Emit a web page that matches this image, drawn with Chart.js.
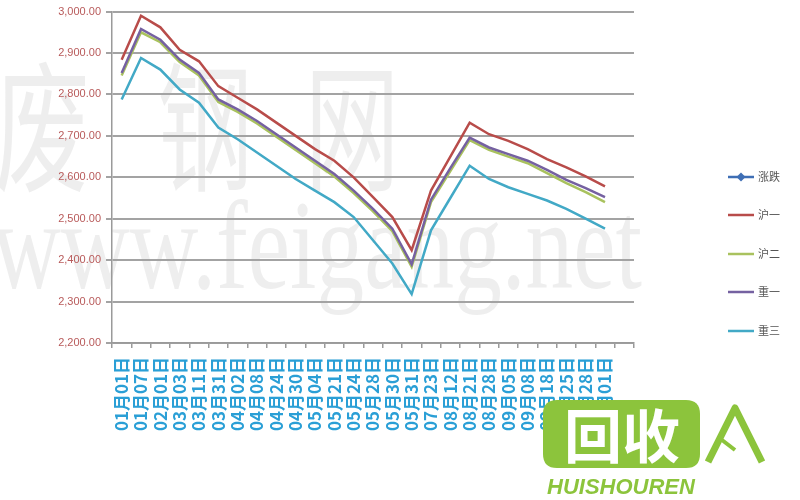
<!DOCTYPE html>
<html>
<head>
<meta charset="utf-8">
<script src="https://cdn.jsdelivr.net/npm/chart.js@4.4.1/dist/chart.umd.min.js"></script>
<style>
html,body{margin:0;padding:0;background:#fff;}
#wrap{width:800px;height:500px;position:relative;}
</style>
</head>
<body>
<div id="wrap"><canvas id="c" width="800" height="500"></canvas></div>
<script>
// ---- data ----
const categories = ['01月01日','01月07日','02月01日','03月03日','03月11日','03月31日','04月02日','04月08日','04月24日','04月30日','05月04日','05月21日','05月24日','05月28日','05月30日','05月31日','07月23日','08月12日','08月21日','08月28日','09月05日','09月08日','09月18日','09月25日','09月28日','10月01日',''];
const seriesNames = ['涨跌','沪一','沪二','重一','重三'];
const zhangdie = [];
const hu1   = [2884,2990,2962,2908,2880,2820,2792,2764,2732,2700,2668,2640,2600,2552,2504,2424,2568,2650,2732,2704,2688,2668,2644,2624,2602,2578];
const hu2   = [2846,2950,2926,2878,2846,2782,2758,2730,2698,2666,2634,2602,2562,2518,2470,2384,2540,2615,2690,2666,2650,2634,2610,2586,2564,2540];
const zhong1= [2852,2958,2932,2884,2852,2788,2764,2736,2704,2672,2640,2608,2568,2524,2476,2390,2546,2622,2696,2672,2656,2640,2618,2594,2574,2552];
const zhong3= [2788,2888,2860,2812,2780,2720,2692,2660,2628,2596,2568,2540,2504,2448,2392,2318,2472,2550,2628,2596,2576,2560,2544,2524,2500,2476];
const yMin = 2200, yMax = 3000, yStep = 100;

const colors = ['#3f6fb5','#b84c4a','#a9c25e','#7561a1','#42a9c6'];
const allSeries = [zhangdie, hu1, hu2, zhong1, zhong3];

const fmt = v => Number(v).toLocaleString('en-US',{minimumFractionDigits:2,maximumFractionDigits:2});

const watermark = {
  id:'watermark',
  beforeDraw(chart){
    const ctx = chart.ctx;
    ctx.save();
    ctx.fillStyle = '#fff';
    ctx.fillRect(0,0,chart.width,chart.height);
    ctx.fillStyle = 'rgba(140,140,140,0.15)';
    ctx.textBaseline = 'alphabetic';
    ctx.font = '140px "Noto Sans CJK SC"';
    const chars = [['废',42],['钢',205],['网',352]];
    chars.forEach(([ch,cx])=>{
      ctx.save();
      ctx.translate(cx,180);
      ctx.scale(0.68,1);
      ctx.textAlign='center';
      ctx.fillText(ch,0,0);
      ctx.restore();
    });
    ctx.font = '128px "Liberation Serif"';
    const t = 'www.feigang.net';
    const w = ctx.measureText(t).width;
    ctx.save();
    ctx.translate(-8,288);
    ctx.scale(650/w,1);
    ctx.textAlign='left';
    ctx.fillText(t,0,0);
    ctx.restore();
    ctx.restore();
  },
  afterDraw(chart){
    const ctx = chart.ctx;
    // legend (Excel-style, right side)
    ctx.save();
    const ys = [177,215,254,292,331];
    chart.data.datasets.forEach((ds,i)=>{
      const y = ys[i];
      ctx.strokeStyle = ds.borderColor;
      ctx.lineWidth = 2.5;
      ctx.beginPath(); ctx.moveTo(728,y); ctx.lineTo(754,y); ctx.stroke();
      if(i===0){
        ctx.fillStyle = ds.borderColor;
        ctx.beginPath(); ctx.moveTo(741,y-4.5); ctx.lineTo(745.5,y); ctx.lineTo(741,y+4.5); ctx.lineTo(736.5,y); ctx.closePath(); ctx.fill();
      }
      ctx.fillStyle = '#555';
      ctx.font = '11px "Noto Sans CJK SC"';
      ctx.textBaseline = 'middle';
      ctx.textAlign = 'left';
      ctx.fillText(ds.label,758,y);
    });
    // logo
    ctx.fillStyle = '#8cc43c';
    const r = 14, x0=543, y0=400, x1=700, y1=468;
    ctx.beginPath();
    ctx.moveTo(x0+r,y0); ctx.lineTo(x1-r,y0); ctx.quadraticCurveTo(x1,y0,x1,y0+r);
    ctx.lineTo(x1,y1-r); ctx.quadraticCurveTo(x1,y1,x1-r,y1); ctx.lineTo(x0+r,y1);
    ctx.quadraticCurveTo(x0,y1,x0,y1-r); ctx.lineTo(x0,y0+r); ctx.quadraticCurveTo(x0,y0,x0+r,y0);
    ctx.fill();
    ctx.fillStyle = '#fff';
    ctx.font = 'bold 58px "Noto Sans CJK SC"';
    ctx.textAlign = 'center'; ctx.textBaseline='middle';
    ctx.fillText('回收',622,436);
    ctx.strokeStyle = '#8cc43c'; ctx.lineWidth = 7; ctx.lineJoin='round';
    ctx.beginPath(); ctx.moveTo(708,462); ctx.lineTo(735,408); ctx.lineTo(762,462); ctx.stroke();
    ctx.lineWidth = 4;
    ctx.beginPath(); ctx.moveTo(722,440); ctx.lineTo(735,450); ctx.stroke();
    ctx.fillStyle = '#8cc43c';
    ctx.font = 'italic bold 22px "Liberation Sans"';
    ctx.textAlign='left'; ctx.textBaseline='alphabetic';
    ctx.fillText('HUISHOUREN',547,494);
    ctx.restore();
  }
};

const datasets = seriesNames.map((n,i)=>({
  label:n, data:allSeries[i], borderColor:colors[i], backgroundColor:colors[i],
  borderWidth:2.5, pointRadius:0, tension:0, fill:false, order: 4-i
}));

new Chart(document.getElementById('c'),{
  type:'line',
  data:{labels:categories, datasets},
  options:{
    responsive:false, animation:false,
    layout:{padding:{top:10,left:0,right:166,bottom:0}},
    plugins:{legend:{display:false},tooltip:{enabled:false}},
    scales:{
      x:{
        offset:true,
        grid:{offset:true, drawOnChartArea:false, drawTicks:true, tickLength:5, color:'#9a9a9a', lineWidth:1.5},
        border:{color:'#9a9a9a', width:1.5},
        ticks:{autoSkip:false, maxRotation:90, minRotation:90, padding:9, color:'#2a9fd6',
               font:{family:'"Noto Sans CJK SC"', size:17, weight:'bold'}},
        afterFit(s){ s.height = 157; }
      },
      y:{
        min:yMin, max:yMax,
        grid:{color:'#a3a3a3', lineWidth:2, tickLength:6},
        border:{color:'#9a9a9a', width:1.5},
        ticks:{stepSize:yStep, padding:5, color:'#b85a5a', font:{family:'"Liberation Sans"', size:11},
               callback:v=>fmt(v)},
        afterFit(s){ s.width = 112; }
      }
    }
  },
  plugins:[watermark]
});
</script>
</body>
</html>
